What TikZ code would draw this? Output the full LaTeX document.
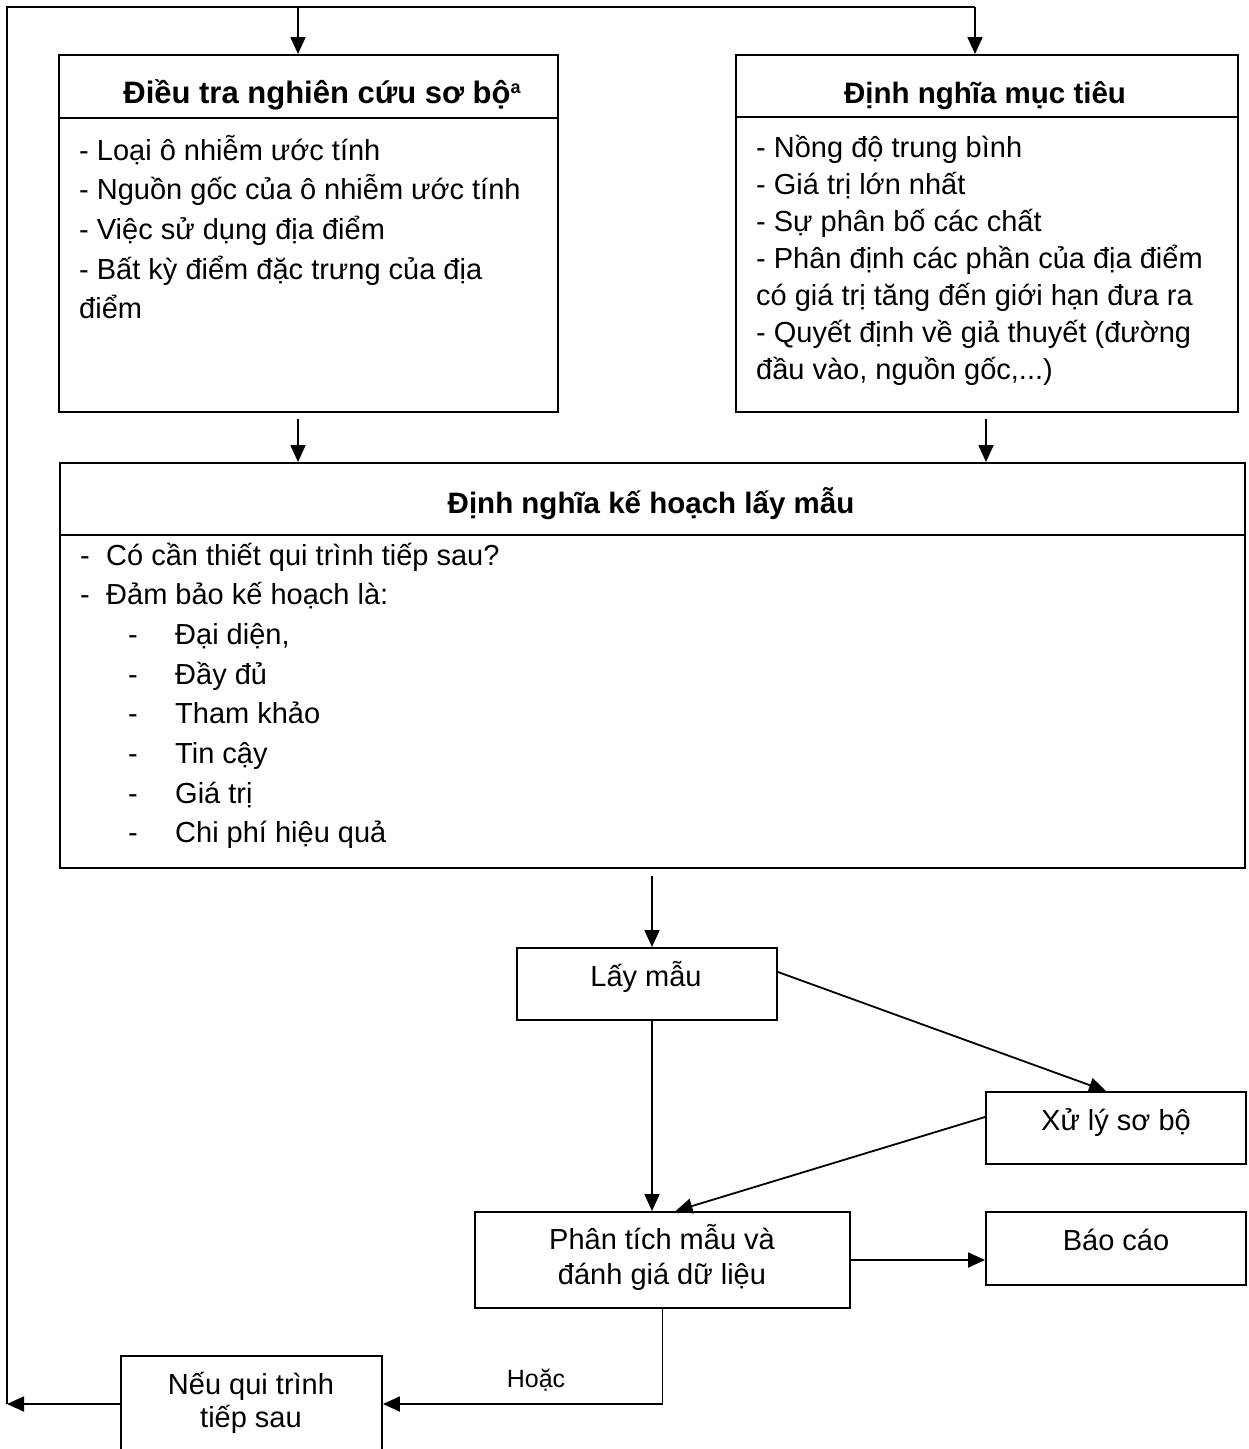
\documentclass[tikz,border=0pt]{standalone}
\usepackage{fontspec}
\setmainfont{Liberation Sans}
\usetikzlibrary{arrows.meta}
\newcommand\bodyf{\fontsize{29}{34}\selectfont}
\newcommand\titlef{\fontsize{29.5}{34}\selectfont\bfseries}
\newcommand\smallf{\fontsize{25}{30}\selectfont}
\begin{document}
\begin{tikzpicture}[x=1pt,y=-1pt,
  box/.style={draw, line width=1.9pt, rectangle, inner sep=0pt},
  ln/.style={line width=1.8pt},
  arr/.style={ln, -{Triangle[length=17pt,width=15pt]}},
  txt/.style={anchor=base, inner sep=0pt, font=\bodyf},
  lft/.style={anchor=base west, inner sep=0pt, font=\bodyf},
  ttl/.style={anchor=base, inner sep=0pt, font=\titlef}]
\useasboundingbox (0,0) rectangle (1249,1449);
\clip (0,0) rectangle (1249,1449);

% ---- boxes
\node[box, minimum width=499pt, minimum height=357pt] (survey) at (308.5,233.5) {};
\node[box, minimum width=502pt, minimum height=357pt] (obj) at (987,233.5) {};
\node[box, minimum width=1185pt, minimum height=405pt] (plan) at (652.5,665.5) {};
\node[box, minimum width=260pt, minimum height=72pt] (lay) at (647,984) {};
\node[box, minimum width=260pt, minimum height=72pt] (xuly) at (1116,1128) {};
\node[box, minimum width=375pt, minimum height=96pt] (phan) at (662.5,1260) {};
\node[box, minimum width=260pt, minimum height=73pt] (bao) at (1116,1248.5) {};
\node[box, minimum width=261pt, minimum height=96pt] (neu) at (251.5,1404) {};

% ---- header dividers
\coordinate (d1) at (0,118);
\coordinate (d2) at (0,117);
\coordinate (d3) at (0,535);
\draw[line width=1.9pt] (survey.west |- d1) -- (survey.east |- d1);
\draw[line width=1.9pt] (obj.west |- d2) -- (obj.east |- d2);
\draw[line width=1.9pt] (plan.west |- d3) -- (plan.east |- d3);

% ---- titles
\node[ttl, font=\fontsize{31}{34}\selectfont\bfseries] (surveyt) at (322,103) {Điều tra nghiên cứu sơ bộ\raisebox{9.5pt}{\fontsize{18}{18}\selectfont a}};
\node[ttl] (objt) at (985,103) {Định nghĩa mục tiêu};
\node[ttl] (plant) at (651,513) {Định nghĩa kế hoạch lấy mẫu};

% ---- survey body
\foreach \t [count=\i from 0] in {{- Loại ô nhiễm ước tính},{- Nguồn gốc của ô nhiễm ước tính},{- Việc sử dụng địa điểm},{- Bất kỳ điểm đặc trưng của địa},{điểm}}
  \node[lft] (sv\i) at (79,160+39.7*\i) {\t};

% ---- objective body
\foreach \t [count=\i from 0] in {{- Nồng độ trung bình},{- Giá trị lớn nhất},{- Sự phân bố các chất},{- Phân định các phần của địa điểm},{có giá trị tăng đến giới hạn đưa ra},{- Quyết định về giả thuyết (đường}}
  \node[lft] (ob\i) at (756,157+37*\i) {\t};
\node[lft] (ob6) at (756,379) {đầu vào, nguồn gốc,...)};

% ---- plan body
\foreach \t [count=\i from 0] in {{Có cần thiết qui trình tiếp sau?},{Đảm bảo kế hoạch là:}}{
  \node[lft] (pd\i) at (80,565+39.7*\i) {-};
  \node[lft] (pl\i) at (106,565+39.7*\i) {\t};
}
\foreach \t [count=\i from 2] in {{Đại diện,},{Đầy đủ},{Tham khảo},{Tin cậy},{Giá trị},{Chi phí hiệu quả}}{
  \node[lft] (pd\i) at (128,565+39.7*\i) {-};
  \node[lft] (pl\i) at (175,565+39.7*\i) {\t};
}

% ---- lower box texts
\node[txt] (layt) at (646,986) {Lấy mẫu};
\node[txt] (xulyt) at (1116,1130) {Xử lý sơ bộ};
\node[txt] (baot) at (1116,1250) {Báo cáo};
\node[txt] (phant1) at (662,1249) {Phân tích mẫu và};
\node[txt] (phant2) at (662,1284) {đánh giá dữ liệu};
\node[txt] (neut1) at (251,1394) {Nếu qui trình};
\node[txt] (neut2) at (251,1427) {tiếp sau};

% ---- feedback loop
\coordinate (bl) at (7,1404);
\coordinate (tl) at (7,7);
\coordinate (tr) at (975,7);
\coordinate (tm) at (298,7);
\draw[arr] (neu.west) -- (bl);
\draw[ln] (bl) -- (tl) -- (tr);
\draw[arr] (tm) -- (tm |- survey.north);
\draw[arr] (tr) -- (tr |- obj.north);

% ---- into plan
\coordinate (s1) at (298,419);
\coordinate (s2) at (986,419);
\draw[arr] (s1) -- (s1 |- plan.north);
\draw[arr] (s2) -- (s2 |- plan.north);

% ---- plan to sampling
\coordinate (p1) at (652,876);
\draw[arr] (p1) -- (p1 |- lay.north);
\draw[arr] (p1 |- lay.south) -- (p1 |- phan.north);
\draw[arr] ([yshift=12pt]lay.east) -- ([xshift=-10pt]xuly.north);
\draw[arr] ([yshift=11pt]xuly.west) -- ([xshift=13pt]phan.north);
\draw[arr] (phan.east) -- (phan.east -| bao.west);
\draw[arr] (phan.south) |- (neu.east);
\node[anchor=base, inner sep=0pt, font=\smallf] (hoac) at (536,1387) {Hoặc};
\end{tikzpicture}
\end{document}
